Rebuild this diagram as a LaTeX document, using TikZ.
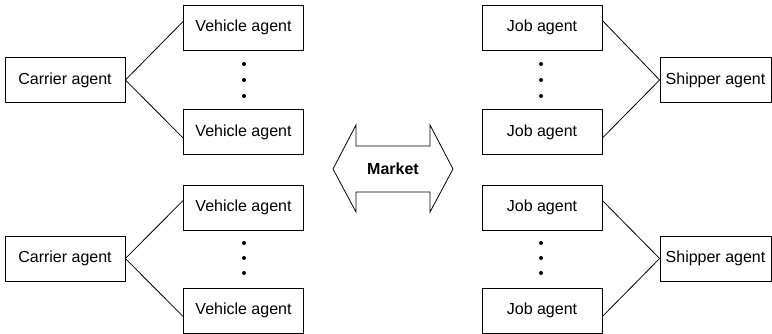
\documentclass[tikz,border=0pt]{standalone}
\usepackage{fontspec}
\setmainfont{Liberation Sans}

\begin{document}
\begin{tikzpicture}[x=1pt,y=-1pt,font=\fontsize{16}{19}\selectfont,line width=.8pt,
  agent/.style={draw,minimum width=120pt,minimum height=45pt,inner sep=0},
  dot/.style={circle,fill,inner sep=0,minimum size=4pt}]
  \useasboundingbox (0,0) rectangle (772,333);
  \foreach \name/\x/\y/\txt in {
    c1/65/80/Carrier agent,c2/65/258.5/Carrier agent,
    v1/243.5/27.5/Vehicle agent,v2/243.5/132/Vehicle agent,
    v3/243.5/207.5/Vehicle agent,v4/243.5/310.5/Vehicle agent,
    j1/542/27.5/Job agent,j2/542/132/Job agent,
    j3/542/207.5/Job agent,j4/542/310.5/Job agent}
    \node[agent] (\name) at (\x,\y) {\txt};
  \foreach \name/\y in {s1/80,s2/258.5}
    \node[agent,minimum width=111pt] (\name) at (715.5,\y) {Shipper agent};

  \foreach \x in {244,541}
    \foreach \y in {64,80,96,243,258,273}
      \node[dot] (d-\x-\y) at (\x,\y) {};

  \foreach \a/\b/\s in {c1/v1/6,c1/v2/-6,c2/v3/7,c2/v4/-6}
    \draw (\a.east) -- ([yshift=\s pt]\b.west);
  \foreach \a/\b/\s in {s1/j1/7,s1/j2/-6,s2/j3/7,s2/j4/-6}
    \draw ([yshift=\s pt]\b.east) -- (\a.west);

  % market
  \draw (333,169) -- (356,125) -- (356,146) -- (430,146) -- (430,125) -- (453,169)
    -- (430,212) -- (430,192) -- (356,192) -- (356,212) -- cycle;
  \node (market) at (393,169) {\textbf{Market}};
\end{tikzpicture}
\end{document}
